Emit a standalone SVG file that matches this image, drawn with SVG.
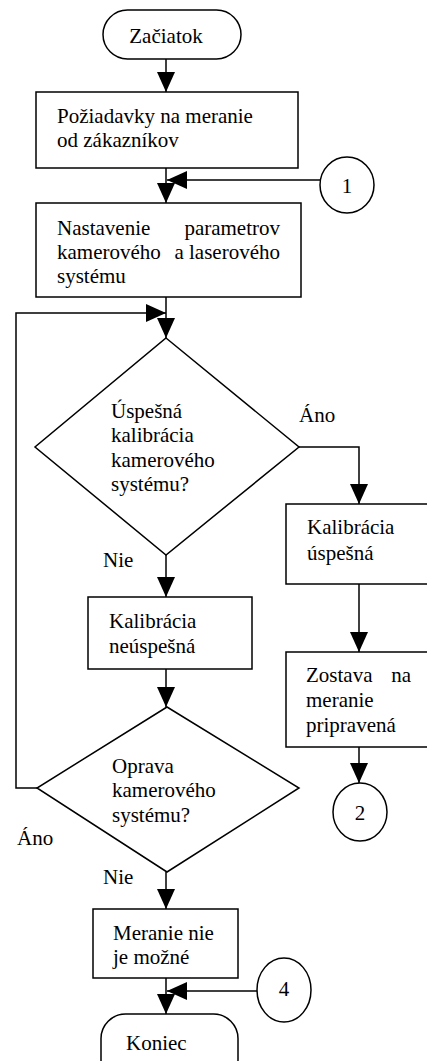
<svg xmlns="http://www.w3.org/2000/svg" width="427" height="1061" viewBox="0 0 427 1061">
<style>
.s{fill:#fff;stroke:#000;stroke-width:1.5}
.l{fill:none;stroke:#000;stroke-width:1.5}
.t{font-family:"Liberation Serif",serif;font-size:21px;fill:#000}
.c{text-anchor:middle}
.e{text-anchor:end}
</style>
<defs>
<marker id="a" markerUnits="userSpaceOnUse" markerWidth="20" markerHeight="20" viewBox="0 0 20 20" refX="20" refY="10" orient="auto">
<path d="M0,1 L20,10 L0,19 Z" fill="#000"/>
</marker>
</defs>
<rect width="427" height="1061" fill="#fff"/>
<g id="connectors" class="t">
<line class="l" x1="166" y1="59" x2="166" y2="92" marker-end="url(#a)"/>
<line class="l" x1="166" y1="168" x2="166" y2="203" marker-end="url(#a)"/>
<line class="l" x1="320" y1="180" x2="167" y2="180" marker-end="url(#a)"/>
<line class="l" x1="166" y1="297" x2="166" y2="338" marker-end="url(#a)"/>
<polyline class="l" points="37,788 16,788 16,313 166,313" marker-end="url(#a)"/>
<polyline class="l" points="299,447 359,447 359,504" marker-end="url(#a)"/>
<line class="l" x1="166" y1="555" x2="166" y2="597" marker-end="url(#a)"/>
<line class="l" x1="166" y1="669" x2="166" y2="707" marker-end="url(#a)"/>
<line class="l" x1="359" y1="584" x2="359" y2="652" marker-end="url(#a)"/>
<line class="l" x1="359" y1="747" x2="359" y2="783" marker-end="url(#a)"/>
<line class="l" x1="166" y1="872" x2="166" y2="909" marker-end="url(#a)"/>
<line class="l" x1="166" y1="978" x2="166" y2="1014" marker-end="url(#a)"/>
<line class="l" x1="257" y1="991" x2="167" y2="991" marker-end="url(#a)"/>
<text x="299" y="422">Áno</text>
<text x="103" y="567">Nie</text>
<text x="17" y="845">Áno</text>
<text x="103" y="884">Nie</text>
</g>
<g id="start" class="t">
<rect class="s" x="103" y="10" width="138" height="49" rx="24.5"/>
<text class="c" x="166" y="43">Začiatok</text>
</g>
<g id="box1" class="t">
<rect class="s" x="36" y="92" width="262" height="76"/>
<text x="57" y="123">Požiadavky na meranie</text>
<text x="57" y="147">od zákazníkov</text>
</g>
<g id="conn1" class="t">
<ellipse class="s" cx="347" cy="185" rx="27" ry="28"/>
<text class="c" x="347" y="193">1</text>
</g>
<g id="box2" class="t">
<rect class="s" x="36" y="203" width="265" height="94"/>
<text x="57" y="235">Nastavenie</text>
<text class="e" x="280" y="235">parametrov</text>
<text x="57" y="259">kamerového</text>
<text class="e" x="280" y="259">a laserového</text>
<text x="57" y="283">systému</text>
</g>
<g id="dec1" class="t">
<polygon class="s" points="166,338 299,447 166,555 35,447"/>
<text x="111" y="418">Úspešná</text>
<text x="111" y="442">kalibrácia</text>
<text x="111" y="467">kamerového</text>
<text x="111" y="491">systému?</text>
</g>
<g id="box3" class="t">
<rect class="s" x="286" y="504" width="160" height="80"/>
<text x="307" y="534">Kalibrácia</text>
<text x="307" y="560">úspešná</text>
</g>
<g id="box4" class="t">
<rect class="s" x="88" y="597" width="164" height="72"/>
<text x="109" y="628">Kalibrácia</text>
<text x="109" y="653">neúspešná</text>
</g>
<g id="box5" class="t">
<rect class="s" x="286" y="652" width="160" height="95"/>
<text x="306" y="682">Zostava</text>
<text class="e" x="411" y="682">na</text>
<text x="306" y="707">meranie</text>
<text x="306" y="732">pripravená</text>
</g>
<g id="conn2" class="t">
<ellipse class="s" cx="360" cy="812" rx="27" ry="29"/>
<text class="c" x="360" y="820">2</text>
</g>
<g id="dec2" class="t">
<polygon class="s" points="167,707 299,788 167,872 37,788"/>
<text x="112" y="773">Oprava</text>
<text x="112" y="797">kamerového</text>
<text x="112" y="822">systému?</text>
</g>
<g id="box6" class="t">
<rect class="s" x="93" y="909" width="145" height="69"/>
<text x="113" y="940">Meranie nie</text>
<text x="113" y="964">je možné</text>
</g>
<g id="conn4" class="t">
<ellipse class="s" cx="284" cy="990" rx="27" ry="32"/>
<text class="c" x="284" y="996">4</text>
</g>
<g id="end" class="t">
<rect class="s" x="101" y="1014" width="137" height="70" rx="24.5"/>
<text x="126" y="1050">Koniec</text>
</g>
</svg>
